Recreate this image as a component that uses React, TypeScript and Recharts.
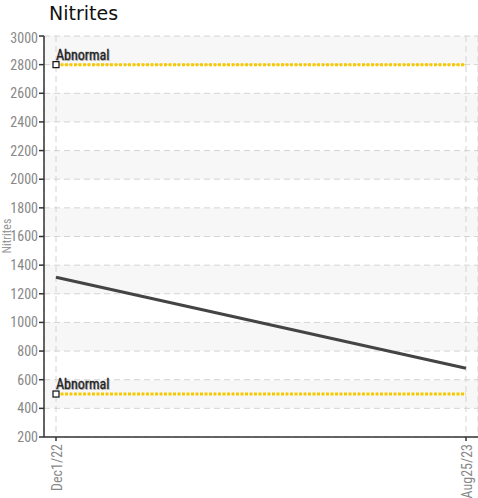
import { CartesianGrid, Line, LineChart, XAxis, YAxis } from "recharts";

const dates = ["Dec1/22", "Aug25/23"];
const nitrites = [1315, 680];
const abnormalHigh = [2800, 2800];
const abnormalLow = [500, 500];
const yTicks = [200, 400, 600, 800, 1000, 1200, 1400, 1600, 1800, 2000, 2200, 2400, 2600, 2800, 3000];

const data = dates.map((date, i) => ({
  date,
  nitrites: nitrites[i],
  high: abnormalHigh[i],
  low: abnormalLow[i],
}));

const FONT = "'Liberation Sans Narrow', 'Roboto Condensed', Roboto, sans-serif";

// square marker + "Abnormal" caption on the first point only
const ThresholdDot = (props: any) => {
  const { cx, cy, index } = props;
  if (index !== 0) return <g key={`d-${index}`} />;
  return (
    <g key={`d-${index}`}>
      <text x={cx + 1} y={cy - 4} fontSize={14} fontFamily={FONT} fill="#bbb">
        Abnormal
      </text>
      <text x={cx} y={cy - 5} fontSize={14} fontFamily={FONT} fill="#222" stroke="#222" strokeWidth={0.3}>
        Abnormal
      </text>
      <rect x={cx - 3} y={cy - 3} width={6} height={6} fill="#fff" stroke="#111" strokeWidth={1.2} />
    </g>
  );
};

const DateTick = (props: any) => {
  const { x, y, payload } = props;
  return (
    <text
      x={x}
      y={y}
      transform={`rotate(-90, ${x}, ${y})`}
      textAnchor="end"
      dy={6}
      dx={-1}
      fontSize={14}
      fontFamily={FONT}
      fill="#888"
    >
      {payload.value}
    </text>
  );
};

export default function App() {
  return (
    <div style={{ position: "absolute", left: 0, top: 0, width: 478, height: 498, background: "#fff" }}>
      <div
        style={{
          height: 30,
          paddingLeft: 49,
          fontFamily: "DejaVu Sans, sans-serif",
          fontSize: 19,
          lineHeight: "26px",
          color: "#111",
        }}
      >
        Nitrites
      </div>
      <LineChart width={478} height={468} data={data} margin={{ top: 6, right: 0, bottom: 0, left: 0 }}>
        <CartesianGrid
          stroke="#d4d4d4"
          strokeDasharray="6 4"
          horizontalFill={["#f7f7f7", "#ffffff"]}
        />
        <XAxis
          dataKey="date"
          height={61}
          padding={{ left: 12, right: 12 }}
          stroke="#333"
          strokeWidth={1.5}
          tickSize={4}
          tick={<DateTick />}
          interval={0}
        />
        <YAxis
          type="number"
          domain={[200, 3000]}
          ticks={yTicks}
          width={44}
          stroke="#333"
          strokeWidth={1.5}
          tickSize={5}
          tickMargin={1}
          tick={{ fill: "#888", fontSize: 14, fontFamily: FONT }}
        />
        <Line dataKey="high" stroke="#f7c900" strokeWidth={3} strokeDasharray="3 1.5" dot={ThresholdDot} activeDot={false} isAnimationActive={false} />
        <Line dataKey="low" stroke="#f7c900" strokeWidth={3} strokeDasharray="3 1.5" dot={ThresholdDot} activeDot={false} isAnimationActive={false} />
        <Line dataKey="nitrites" stroke="#444" strokeWidth={3} dot={false} activeDot={false} isAnimationActive={false} />
      </LineChart>
      <div
        style={{
          position: "absolute",
          left: 7,
          top: 236,
          transform: "translate(-50%, -50%) rotate(-90deg)",
          fontFamily: FONT,
          fontSize: 12,
          lineHeight: "12px",
          color: "#999",
          whiteSpace: "nowrap",
        }}
      >
        Nitrites
      </div>
    </div>
  );
}
